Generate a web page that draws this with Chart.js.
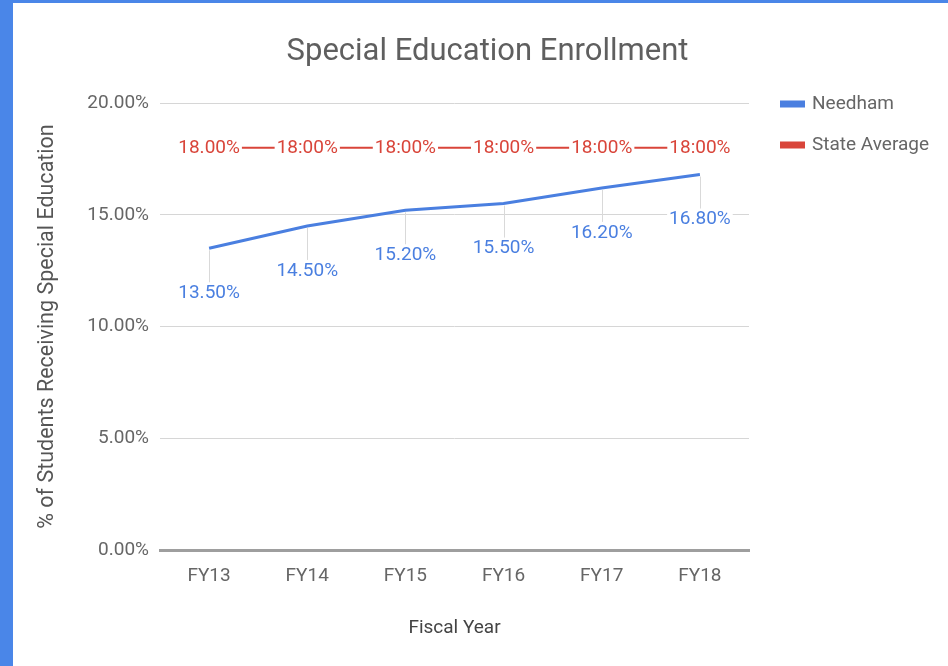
<!DOCTYPE html>
<html>
<head>
<meta charset="utf-8">
<script src="https://cdn.jsdelivr.net/npm/chart.js@4/dist/chart.umd.min.js"></script>
<style>
  html, body { margin: 0; padding: 0; background: #fff; }
  #frame {
    width: 935px; height: 663px;
    border-left: 13px solid #4a86e8; border-top: 3px solid #4a86e8;
  }
  #wrap { position: relative; width: 935px; height: 663px; }
</style>
</head>
<body>
<div id="frame"><div id="wrap"><canvas id="enrollChart"></canvas></div></div>
<script>
const fiscalYears = ['FY13', 'FY14', 'FY15', 'FY16', 'FY17', 'FY18'];
const needham = [13.5, 14.5, 15.2, 15.5, 16.2, 16.8];
const stateAverage = [18, 18, 18, 18, 18, 18];
const stateLabels = ['18.00%', '18:00%', '18:00%', '18:00%', '18:00%', '18:00%'];
const yTicks = [0, 5, 10, 15, 20];

const FONT = 'Roboto, "Noto Sans", sans-serif';
const BLUE = '#4a7fe0';
const RED = '#d9453a';

// point labels: Needham below the point with a leader line, state average over the line
const pointLabels = {
    id: 'pointLabels',
    afterDatasetsDraw(chart) {
        const ctx = chart.ctx;
        ctx.save();
        ctx.font = '19px ' + FONT;
        ctx.textAlign = 'center';
        ctx.textBaseline = 'middle';
        chart.data.datasets.forEach((ds, i) => {
            const meta = chart.getDatasetMeta(i);
            meta.data.forEach((pt, j) => {
                const text = ds.labelTexts ? ds.labelTexts[j] : ds.data[j].toFixed(2) + '%';
                const w = ctx.measureText(text).width;
                let y = pt.y + 1;
                if (ds.labelBelow) {
                    y = pt.y + 45;
                    ctx.strokeStyle = '#d9d9d9';
                    ctx.lineWidth = 1;
                    ctx.beginPath();
                    ctx.moveTo(Math.round(pt.x) + 0.5, pt.y + 2);
                    ctx.lineTo(Math.round(pt.x) + 0.5, y - 11);
                    ctx.stroke();
                }
                ctx.fillStyle = '#fff';
                ctx.fillRect(pt.x - w / 2 - 2, y - 9, w + 4, 18);
                ctx.fillStyle = ds.borderColor;
                ctx.fillText(text, pt.x, y);
            });
        });
        ctx.restore();
    }
};

// legend drawn to the right of the plot, top aligned with the 20% line
const sideLegend = {
    id: 'sideLegend',
    afterDraw(chart) {
        const ctx = chart.ctx;
        const area = chart.chartArea;
        ctx.save();
        ctx.font = '19px ' + FONT;
        ctx.textBaseline = 'middle';
        chart.data.datasets.forEach((ds, i) => {
            const x = area.right + 31;
            const y = area.top + 1 + i * 41;
            ctx.fillStyle = ds.borderColor;
            ctx.fillRect(x, y - 3.5, 25, 7);
            ctx.fillStyle = '#666';
            ctx.fillText(ds.label, x + 32, y);
        });
        ctx.restore();
    }
};

new Chart(document.getElementById('enrollChart'), {
    type: 'line',
    data: {
        labels: fiscalYears,
        datasets: [{
            label: 'Needham',
            data: needham,
            borderColor: BLUE,
            borderWidth: 3,
            pointRadius: 0,
            labelBelow: true
        }, {
            label: 'State Average',
            data: stateAverage,
            labelTexts: stateLabels,
            borderColor: RED,
            borderWidth: 2,
            pointRadius: 0
        }]
    },
    options: {
        responsive: true,
        maintainAspectRatio: false,
        animation: false,
        layout: { padding: { left: 14, right: 0, top: 0, bottom: 20 } },
        plugins: {
            legend: { display: false },
            tooltip: { enabled: false },
            title: {
                display: true,
                text: 'Special Education Enrollment',
                color: '#5f5f5f',
                font: { family: FONT, size: 31, weight: 'normal' },
                padding: { top: 31, bottom: 31.8 }
            }
        },
        scales: {
            x: {
                offset: true,
                grid: { display: false },
                border: { display: true, color: '#9e9e9e', width: 3 },
                ticks: { color: '#666', padding: 7, font: { family: FONT, size: 19 } },
                title: {
                    display: true,
                    text: 'Fiscal Year',
                    color: '#444',
                    font: { family: FONT, size: 19 },
                    padding: { top: 0, bottom: 6 }
                },
                afterFit(scale) { scale.height = 96; }
            },
            y: {
                min: 0,
                max: 20,
                afterBuildTicks(scale) { scale.ticks = yTicks.map(v => ({ value: v })); },
                grid: { color: '#d6d6d6', lineWidth: 1, drawTicks: false },
                border: { display: false },
                ticks: {
                    color: '#666',
                    padding: 11,
                    font: { family: FONT, size: 19 },
                    callback: v => v.toFixed(2) + '%'
                },
                title: {
                    display: true,
                    text: '% of Students Receiving Special Education',
                    color: '#555',
                    font: { family: FONT, size: 21.5 },
                    padding: { top: 8, bottom: 0 }
                },
                afterFit(scale) { scale.width = 133; }
            },
            // empty right-hand axis that reserves room for the legend
            legendSpace: {
                position: 'right',
                grid: { display: false },
                border: { display: false },
                ticks: { display: false },
                afterFit(scale) { scale.width = 199; }
            }
        }
    },
    plugins: [pointLabels, sideLegend]
});
</script>
</body>
</html>
